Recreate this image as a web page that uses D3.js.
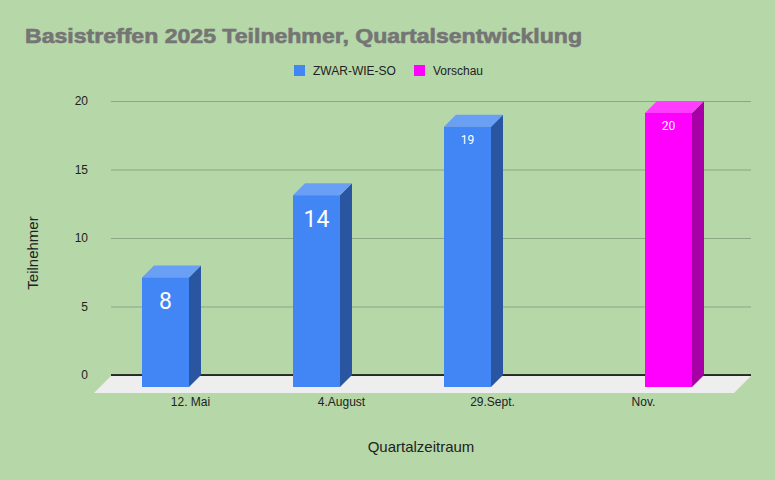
<!DOCTYPE html>
<html>
<head>
<meta charset="utf-8">
<script src="https://cdn.jsdelivr.net/npm/d3@7"></script>
<style>
  body { margin: 0; background: #b6d7a8; }
  text { font-family: "Liberation Sans", Arial, sans-serif; }
</style>
</head>
<body>
<div id="chart"></div>
<script>
// data
var categories = ["12. Mai", "4.August", "29.Sept.", "Nov."];
var seriesNames = ["ZWAR-WIE-SO", "Vorschau"];
var zwar = [8, 14, 19, null];
var vorschau = [null, null, null, 20];
var yTicks = [0, 5, 10, 15, 20];

var width = 775, height = 480;
var depth = 12;      // bar depth offset
var floorDepth = 17;

var colors = {
  "ZWAR-WIE-SO": { front: "#4285f4", top: "#6a9ff6", side: "#2a56a1" },
  "Vorschau": { front: "#ff00ff", top: "#ff3cff", side: "#a600a6" }
};

var svg = d3.select("#chart").append("svg")
  .attr("width", width)
  .attr("height", height);

svg.append("rect").attr("width", width).attr("height", height).attr("fill", "#b6d7a8");

// title (wide heavy bold, stretched to the reference width)
svg.append("text")
  .attr("x", 25).attr("y", 43)
  .attr("font-size", 20).attr("font-weight", "bold")
  .attr("fill", "#757575")
  .attr("stroke", "#757575").attr("stroke-width", 0.6)
  .attr("textLength", 557).attr("lengthAdjust", "spacingAndGlyphs")
  .text("Basistreffen 2025 Teilnehmer, Quartalsentwicklung");

// scales
var y = d3.scaleLinear().domain([0, 20]).range([375, 101]);
var x = d3.scaleBand().domain(categories).range([118, 722]);
var xs = d3.scaleBand().domain(seriesNames).range([24, 121]).paddingInner(0.06);

var plotLeft = 111, plotRight = 751;

// gridlines + y labels
var yAxis = d3.axisLeft(y).tickValues(yTicks).tickSize(-(plotRight - plotLeft)).tickPadding(23);
var gy = svg.append("g").attr("transform", "translate(" + plotLeft + ",0)").call(yAxis);
gy.select(".domain").remove();
gy.selectAll("line").attr("stroke", "#8da684");
gy.selectAll("text").attr("font-size", 12).attr("fill", "#222")
  .style("font-family", "'Liberation Sans', Arial, sans-serif");

// floor
var y0 = y(0);
svg.append("polygon")
  .attr("points", [
    [plotLeft, y0 + 1], [plotRight, y0 + 1],
    [plotRight - floorDepth, y0 + 1 + floorDepth], [plotLeft - floorDepth, y0 + 1 + floorDepth]
  ].map(function(p) { return p.join(","); }).join(" "))
  .attr("fill", "#eeeeee");

svg.append("line")
  .attr("x1", plotLeft).attr("x2", plotRight)
  .attr("y1", y0).attr("y2", y0)
  .attr("stroke", "#000").attr("stroke-width", 1.5);

// bars
var bars = [];
categories.forEach(function(c, i) {
  if (zwar[i] != null) bars.push({ cat: c, s: "ZWAR-WIE-SO", v: zwar[i], big: i < 2 });
  if (vorschau[i] != null) bars.push({ cat: c, s: "Vorschau", v: vorschau[i], big: false });
});

var bw = xs.bandwidth();
var g = svg.append("g");
bars.forEach(function(d) {
  var x0 = x(d.cat) + xs(d.s);
  var yb = y0 + depth;                // front baseline
  var yt = y(d.v) + depth;            // front top
  var col = colors[d.s];
  // side
  g.append("polygon")
    .attr("points", [[x0 + bw, yt], [x0 + bw + depth, yt - depth], [x0 + bw + depth, yb - depth], [x0 + bw, yb]].join(" "))
    .attr("fill", col.side);
  // top
  g.append("polygon")
    .attr("points", [[x0, yt], [x0 + depth, yt - depth], [x0 + bw + depth, yt - depth], [x0 + bw, yt]].join(" "))
    .attr("fill", col.top);
  // front
  g.append("rect")
    .attr("x", x0).attr("y", yt)
    .attr("width", bw).attr("height", yb - yt)
    .attr("fill", col.front);
  // value label
  g.append("text")
    .attr("x", x0 + bw / 2)
    .attr("y", yt + (d.big ? 32 : 17))
    .attr("text-anchor", "middle")
    .attr("fill", "#fff")
    .style("font-family", "Roboto, sans-serif")
    .attr("font-size", d.big ? 23 : 12)
    .text(d.v);
});

// x labels
var gx = svg.append("g").attr("transform", "translate(0," + (y0 + 22) + ")")
  .call(d3.axisBottom(d3.scalePoint().domain(categories)
    .range([x(categories[0]) + 72, x(categories[3]) + 72])).tickSize(0).tickPadding(0));
gx.select(".domain").remove();
gx.selectAll("text").attr("font-size", 12).attr("fill", "#222").attr("dy", "0.71em")
  .style("font-family", "'Liberation Sans', Arial, sans-serif");

// axis titles
svg.append("text")
  .attr("x", 421).attr("y", 452)
  .attr("text-anchor", "middle")
  .attr("font-size", 15).attr("fill", "#222")
  .text("Quartalzeitraum");

svg.append("text")
  .attr("transform", "translate(38,253) rotate(-90)")
  .attr("text-anchor", "middle")
  .attr("font-size", 15).attr("fill", "#222")
  .text("Teilnehmer");

// legend
var legend = [
  { name: seriesNames[0], x: 294 },
  { name: seriesNames[1], x: 414 }
];
legend.forEach(function(l) {
  svg.append("rect").attr("x", l.x).attr("y", 65).attr("width", 11).attr("height", 11)
    .attr("fill", colors[l.name].front);
  svg.append("text").attr("x", l.x + 19).attr("y", 75)
    .attr("font-size", 12).attr("fill", "#222").text(l.name);
});
</script>
</body>
</html>
